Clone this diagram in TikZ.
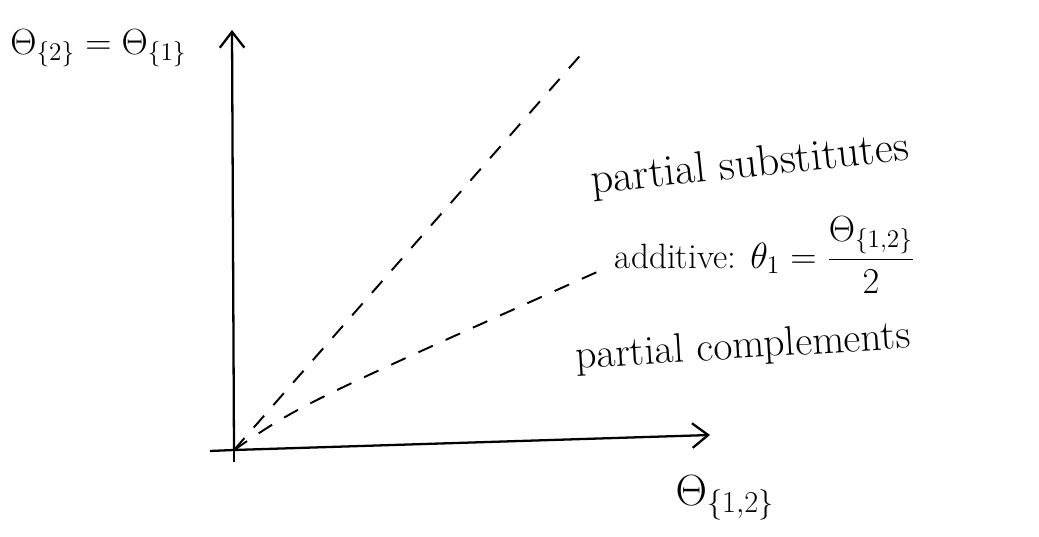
\documentclass[tikz,border=0pt]{standalone}
\usepackage{amsmath,amssymb}
\usepackage{tikz}
\usetikzlibrary{arrows.meta,positioning,calc}

\begin{document}
\begin{tikzpicture}[
  x=0.02cm, y=-0.02cm,
  axis/.style={line width=1.3pt, -{Straight Barb[length=9pt,width=14pt,line width=1.3pt]}},
  guide/.style={line width=1.1pt, dash pattern=on 9pt off 8pt},
  hand/.style={font=\fontsize{25}{30}\selectfont, inner sep=0pt},
  axlab/.style={font=\fontsize{23}{28}\selectfont, inner sep=0pt},
]
\useasboundingbox (0,0) rectangle (1039,537);
% axes
\coordinate (O)    at (234,450);
\coordinate (xend) at (710,435);
\coordinate (yend) at (232,30);
\draw[line width=1.3pt] (234,462) -- (O);
\draw[line width=1.3pt] (210,451) -- (O);
\draw[axis] (O) -- (xend);
\draw[axis] (O) -- (yend);
% dashed rays
\coordinate (subend) at (585,50);
\coordinate (addend) at (606,268);
\draw[guide] (O) -- (subend);
\draw[guide] (O) .. controls (300,405) .. (addend);
% labels
\node[axlab, font=\fontsize{20}{24}\selectfont, anchor=west] (ylab) at (10,48) {$\Theta_{\{2\}}=\Theta_{\{1\}}$};
\node[axlab] (xlab) at (725,498) {$\Theta_{\{1,2\}}$};
\node[hand, rotate=6] (subst) at (750,166) {partial substitutes};
\node[hand, font=\fontsize{20}{24}\selectfont] (addit) at (765,255) {additive: $\theta_1=\dfrac{\Theta_{\{1,2\}}}{2}$};
\node[hand, font=\fontsize{23.5}{28}\selectfont, rotate=3.5] (compl) at (743,348) {partial complements};
\end{tikzpicture}
\end{document}
